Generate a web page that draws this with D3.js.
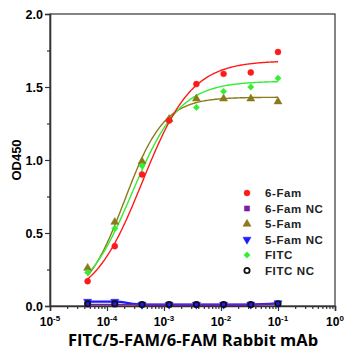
<!DOCTYPE html>
<meta charset="utf-8">
<script src="https://d3js.org/d3.v7.min.js"></script>
<style>
body{margin:0;background:#fff;}
text{font-family:"Liberation Sans",Arial,sans-serif;font-weight:bold;}
</style>
<body>
<div id="chart"></div>
<script>
// antibody concentration, 3-fold dilution
var conc=[4.57e-5,1.37e-4,4.12e-4,1.23e-3,3.7e-3,1.11e-2,3.33e-2,1e-1];
var fam6=[0.17,0.41,0.90,1.27,1.52,1.59,1.60,1.74];
var fam6nc=[0.01,0.01,0.01,0.01,0.01,0.01,0.01,0.015];
var fam5=[0.26,0.575,0.99,1.28,1.42,1.42,1.42,1.40];
var fam5nc=[0.03,0.03,0.01,0.01,0.01,0.01,0.01,0.02];
var fitc=[0.23,0.53,0.96,1.27,1.36,1.47,1.50,1.56];
var fitcnc=[0.015,0.015,0.01,0.01,0.01,0.01,0.01,0.015];
// 4PL fit parameters: bottom, top, logEC50, hill
var fit6=[0.02,1.68,-3.38,1.0];
var fit5=[0.02,1.43,-3.69,1.25];
var fitF=[0.01,1.54,-3.56,1.03];
var yTicks=[0,0.5,1.0,1.5,2.0];
var xDecades=[-5,-4,-3,-2,-1,0];

var W=346,H=356;
var svg=d3.select("#chart").append("svg").attr("width",W).attr("height",H);
var x=d3.scaleLog().domain([1e-5,1]).range([50,335]);
var y=d3.scaleLinear().domain([0,2]).range([306,14]);

// frame
svg.append("rect").attr("x",50).attr("y",14).attr("width",285).attr("height",292)
  .attr("fill","none").attr("stroke","#333").attr("stroke-width",1.2);

// y axis
var ya=svg.append("g").attr("transform","translate(50,0)")
  .call(d3.axisLeft(y).tickValues(yTicks).tickFormat(d3.format(".1f")).tickSize(5));
ya.selectAll("text").attr("font-size","12.5px").attr("fill","#000").attr("dx","1");
var yMinor=d3.range(0.25,2,0.5);
svg.append("g").attr("transform","translate(50,0)")
  .call(d3.axisLeft(y).tickValues(yMinor).tickFormat("").tickSize(3))
  .select(".domain").remove();

// x axis
var minors=[];
xDecades.slice(0,-1).forEach(function(e){for(var k=2;k<10;k++)minors.push(k*Math.pow(10,e));});
svg.append("g").attr("transform","translate(0,306)")
  .call(d3.axisBottom(x).tickValues(minors).tickFormat("").tickSize(3))
  .select(".domain").remove();
var xa=svg.append("g").attr("transform","translate(0,306)")
  .call(d3.axisBottom(x).tickValues(xDecades.map(function(e){return Math.pow(10,e);})).tickFormat("").tickSize(5));
svg.selectAll(".domain").attr("stroke","#333").attr("stroke-width",1.6);
svg.selectAll(".tick line").attr("stroke","#333").attr("stroke-width",1.2);
xDecades.forEach(function(e){
  var t=svg.append("text").attr("x",x(Math.pow(10,e))).attr("y",326)
    .attr("text-anchor","middle").attr("font-size","12px").attr("fill","#000");
  t.append("tspan").text("10");
  t.append("tspan").attr("dy","-5").attr("font-size","8px").text(e);
});

// titles
svg.append("text").attr("transform","translate(21,160) rotate(-90)")
  .attr("text-anchor","middle").attr("font-size","13px").text("OD450");
svg.append("text").attr("x",193).attr("y",346).attr("text-anchor","middle")
  .attr("font-size","16.5px").style("font-family","'Open Sans',sans-serif").style("font-weight","bold")
  .text("FITC/5-FAM/6-FAM Rabbit mAb");

// curves
function fourPL(p){return function(lx){return p[0]+(p[1]-p[0])/(1+Math.pow(10,(p[2]-lx)*p[3]));};}
var lxs=d3.range(Math.log10(conc[0]),Math.log10(conc[7])+0.001,0.02);
var line=d3.line().x(function(d){return x(Math.pow(10,d[0]));}).y(function(d){return y(d[1]);});
function drawFit(p,col,w){
  var f=fourPL(p);
  svg.append("path").datum(lxs.map(function(l){return [l,f(l)];}))
    .attr("d",line).attr("fill","none").attr("stroke",col).attr("stroke-width",w);
}
function drawLine(vals,col,w){
  svg.append("path").datum(conc.map(function(c,i){return [Math.log10(c),vals[i]];}))
    .attr("d",line.curve(d3.curveMonotoneX)).attr("fill","none").attr("stroke",col).attr("stroke-width",w);
  line.curve(d3.curveLinear);
}
drawLine(fam5nc,"#1a1aff",2.2);
drawLine(fam6nc,"#7a1fa2",1.5);
drawFit(fit5,"#8b7a1a",1.4);
drawFit(fitF,"#33ee33",1.4);
drawFit(fit6,"#ff1a1a",1.4);

var series=[
  {name:"6-Fam",vals:fam6,col:"#ff1a1a",sym:d3.symbolCircle,size:28,fill:true},
  {name:"6-Fam NC",vals:fam6nc,col:"#7a1fa2",sym:d3.symbolSquare,size:26,fill:true},
  {name:"5-Fam",vals:fam5,col:"#8b7a1a",sym:d3.symbolTriangle,size:28,fill:true},
  {name:"5-Fam NC",vals:fam5nc,col:"#1a1aff",sym:d3.symbolTriangle,size:28,fill:true,rot:180},
  {name:"FITC",vals:fitc,col:"#33ee33",sym:d3.symbolSquare,size:20,fill:true,rot:45},
  {name:"FITC NC",vals:fitcnc,col:"#111",sym:d3.symbolCircle,size:22,fill:false}
];
function mark(g,s,cx,cy){
  g.append("path").attr("d",d3.symbol().type(s.sym).size(s.size)())
    .attr("transform","translate("+cx+","+cy+")"+(s.rot?" rotate("+s.rot+")":""))
    .attr("fill",s.fill?s.col:"none").attr("stroke",s.col).attr("stroke-width",s.fill?0.5:1.8);
}
[1,3,5,2,4,0].forEach(function(k){
  var s=series[k];
  s.vals.forEach(function(v,i){mark(svg,s,x(conc[i]),y(v));});
});

// legend
series.forEach(function(s,i){
  var ly=193+i*15.5;
  mark(svg,s,247,ly);
  svg.append("text").attr("x",265).attr("y",ly+4).attr("font-size","11.5px")
    .style("letter-spacing","0.6px").attr("fill","#222").text(s.name);
});
</script>
</body>
